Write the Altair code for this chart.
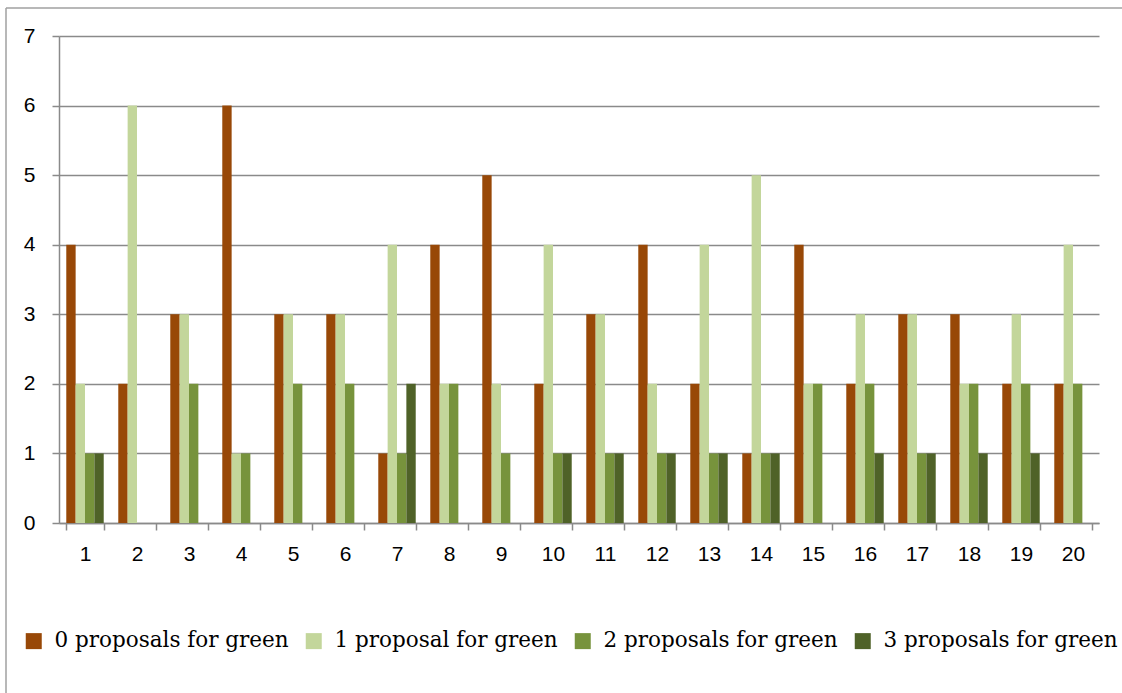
import altair as alt
import pandas as pd

questions = list(range(1, 21))
series_names = ["0 proposals for green", "1 proposal for green",
                "2 proposals for green", "3 proposals for green"]
zero_green = [4, 2, 3, 6, 3, 3, 1, 4, 5, 2, 3, 4, 2, 1, 4, 2, 3, 3, 2, 2]
one_green = [2, 6, 3, 1, 3, 3, 4, 2, 2, 4, 3, 2, 4, 5, 2, 3, 3, 2, 3, 4]
two_green = [1, 0, 2, 1, 2, 2, 1, 2, 1, 1, 1, 1, 1, 1, 2, 2, 1, 2, 2, 2]
three_green = [1, 0, 0, 0, 0, 0, 2, 0, 0, 1, 1, 1, 1, 1, 0, 1, 1, 1, 1, 0]
colors = ["#984807", "#C3D69B", "#77933C", "#4F6228"]
y_ticks = [0, 1, 2, 3, 4, 5, 6, 7]

rows = []
for name, vals in zip(series_names, [zero_green, one_green, two_green, three_green]):
    for q, v in zip(questions, vals):
        rows.append({"Question": q, "Series": name, "Count": v})
df = pd.DataFrame(rows)

grey = "#8a8a8a"

bars = alt.Chart(df).mark_bar().encode(
    x=alt.X("Question:O", sort=questions,
            scale=alt.Scale(paddingInner=0.28, paddingOuter=0.14),
            axis=alt.Axis(title=None, labelAngle=0, tickBand="extent", tickSize=7,
                          labelPadding=13, grid=False)),
    xOffset=alt.XOffset("Series:N", sort=series_names,
                        scale=alt.Scale(paddingInner=0, paddingOuter=0)),
    y=alt.Y("Count:Q", scale=alt.Scale(domain=[0, 7], nice=False),
            axis=alt.Axis(title=None, values=y_ticks, grid=True, tickSize=7,
                          labelPadding=17, format="d")),
    color=alt.Color("Series:N", sort=series_names,
                    scale=alt.Scale(domain=series_names, range=colors),
                    legend=alt.Legend(title=None, orient="none", direction="horizontal",
                                      legendX=-36, legendY=594, symbolType="square",
                                      symbolSize=256, symbolStrokeWidth=0,
                                      labelFont="DejaVu Serif", labelFontSize=21.5,
                                      labelColor="#000000", labelLimit=400,
                                      labelOffset=10, columnPadding=14, padding=0)),
)

frame_df = pd.DataFrame({"a": [0]})
frame_left = alt.Chart(frame_df).mark_rule(color="#a0a0a0", strokeWidth=1.5).encode(
    x=alt.value(-53), y=alt.value(-28), y2=alt.value(750)
)
frame_top = alt.Chart(frame_df).mark_rule(color="#a0a0a0", strokeWidth=1.5).encode(
    x=alt.value(-53), x2=alt.value(1200), y=alt.value(-28)
)

chart = alt.layer(frame_left, frame_top, bars).properties(
    width=1040, height=487,
    autosize=alt.AutoSizeParams(type="none"),
    padding={"left": 59, "top": 36, "right": 23, "bottom": 170},
    background="white",
).configure_view(strokeWidth=0).configure_axis(
    domainColor=grey, tickColor=grey, gridColor=grey, domainWidth=1.5, gridWidth=1.5,
    tickWidth=1.5, labelFont="Liberation Sans", labelFontSize=21, labelColor="#000000"
)

chart.save("out.html", embed_options={"renderer": "svg", "actions": False})
